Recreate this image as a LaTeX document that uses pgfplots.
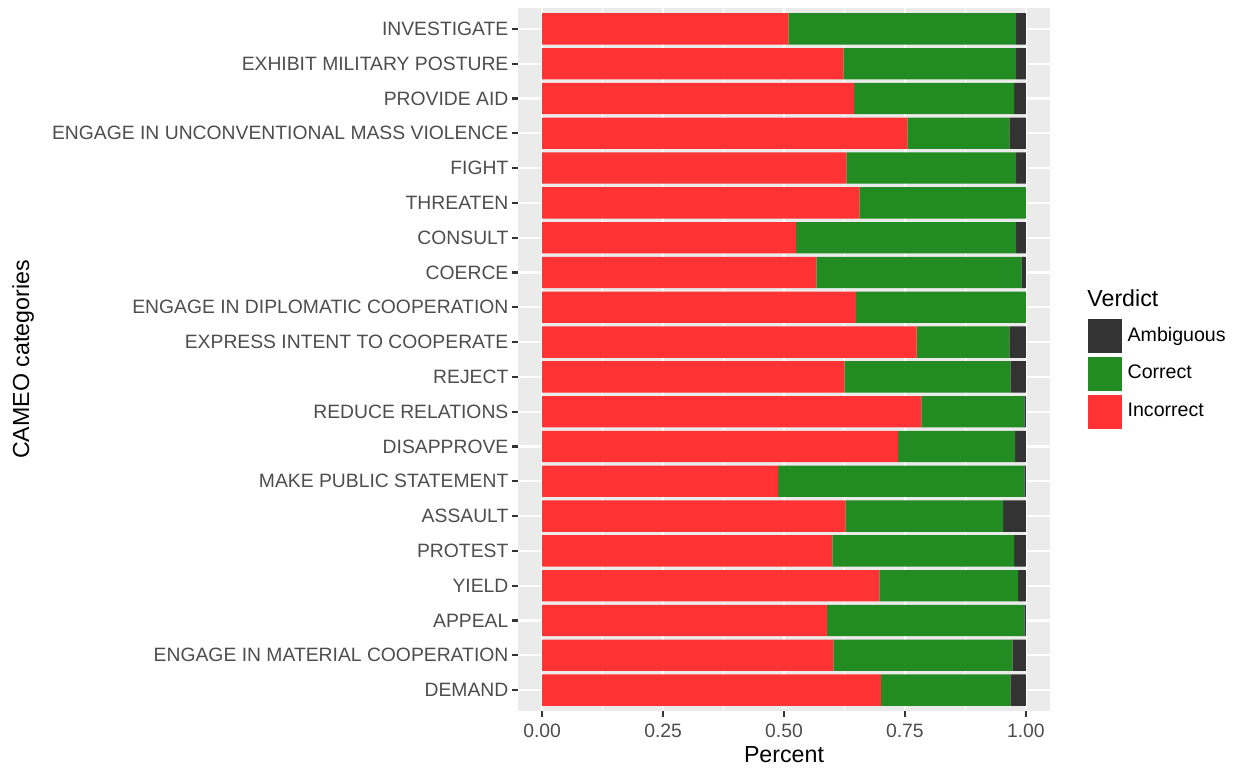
\documentclass[border=0pt]{standalone}
\usepackage{fontspec}
\setmainfont{Liberation Sans}
\usepackage{pgfplots}
\usepackage{pgfplotstable}
\pgfplotsset{compat=1.18}

\definecolor{incorrect}{HTML}{FF3333}
\definecolor{correct}{HTML}{228B22}
\definecolor{ambiguous}{HTML}{333333}
\definecolor{panel}{HTML}{EBEBEB}
\definecolor{ticktext}{HTML}{4D4D4D}

% share of each verdict per CAMEO category (bottom row first)
\pgfplotstableread{
id incorrect correct ambiguous
0  0.701 0.267 0.032
1  0.602 0.370 0.028
2  0.589 0.408 0.003
3  0.697 0.287 0.016
4  0.600 0.376 0.024
5  0.627 0.326 0.047
6  0.488 0.509 0.003
7  0.736 0.242 0.022
8  0.784 0.213 0.003
9  0.625 0.343 0.032
10 0.774 0.192 0.034
11 0.649 0.351 0.000
12 0.567 0.424 0.009
13 0.525 0.455 0.020
14 0.656 0.344 0.000
15 0.629 0.351 0.020
16 0.755 0.211 0.034
17 0.645 0.331 0.024
18 0.623 0.357 0.020
19 0.509 0.471 0.020
}\cameo

\begin{document}
\begin{tikzpicture}
\begin{axis}[
    name=ax,
    xbar stacked,
    bar width=0.9,
    scale only axis,
    width=266bp, height=351.5bp,
    xmin=-0.05, xmax=1.05,
    ymin=-0.6, ymax=19.6,
    xtick={0,0.25,0.5,0.75,1},
    xticklabels={0.00,0.25,0.50,0.75,1.00},
    minor xtick={0.125,0.375,0.625,0.875},
    ytick={0,...,19},
    yticklabels={DEMAND, ENGAGE IN MATERIAL COOPERATION, APPEAL, YIELD, PROTEST,
        ASSAULT, MAKE PUBLIC STATEMENT, DISAPPROVE, REDUCE RELATIONS, REJECT,
        EXPRESS INTENT TO COOPERATE, ENGAGE IN DIPLOMATIC COOPERATION, COERCE,
        CONSULT, THREATEN, FIGHT, ENGAGE IN UNCONVENTIONAL MASS VIOLENCE,
        PROVIDE AID, EXHIBIT MILITARY POSTURE, INVESTIGATE},
    axis background/.style={fill=panel},
    axis line style={draw=none},
    grid=both,
    major grid style={white, line width=1.1bp},
    minor grid style={white, line width=0.55bp},
    tick align=outside,
    major tick length=2.8bp,
    minor tick length=0pt,
    tick style={ambiguous, line width=1.1bp},
    xtick pos=bottom, ytick pos=left,
    ticklabel style={font=\fontsize{9.66bp}{11bp}\selectfont, text=ticktext},
    yticklabel style={xshift=1.5bp},
    /pgf/number format/assume math mode=true,
    xlabel={Percent},
    ylabel={CAMEO categories},
    every axis x label/.style={at={(rel axis cs:0.5,-0.0626)}, anchor=center,
        font=\fontsize{11.6bp}{13bp}\selectfont},
    every axis y label/.style={at={(rel axis cs:-0.93,0.5)}, rotate=90, anchor=center,
        font=\fontsize{11.6bp}{13bp}\selectfont},
    reverse legend,
    legend cell align=left,
    legend image code/.code={\fill[#1,draw=none] (0bp,-8.5bp) rectangle (17bp,8.5bp);},
    legend style={at={(rel axis cs:1.07,0.48)}, anchor=west, draw=none, fill=none,
        inner sep=0pt, row sep=2bp,
        /tikz/every odd column/.append style={column sep=1bp},
        font=\fontsize{9.8bp}{11bp}\selectfont},
]
\addplot[fill=incorrect, draw=none] table[x=incorrect, y=id] {\cameo};
\addlegendentry{Incorrect}
\addplot[fill=correct, draw=none] table[x=correct, y=id] {\cameo};
\addlegendentry{Correct}
\addplot[fill=ambiguous, draw=none] table[x=ambiguous, y=id] {\cameo};
\addlegendentry{Ambiguous}
\end{axis}
\node[anchor=west, inner sep=0pt, xshift=18.5bp, yshift=30.75bp,
    font=\fontsize{11.6bp}{13bp}\selectfont] at (ax.east) {Verdict};
\pgfresetboundingbox
\path[use as bounding box] ([shift={(-259bp,-30bp)}]ax.south west)
    rectangle ([shift={(94.5bp,4bp)}]ax.north east);
\end{tikzpicture}
\end{document}
